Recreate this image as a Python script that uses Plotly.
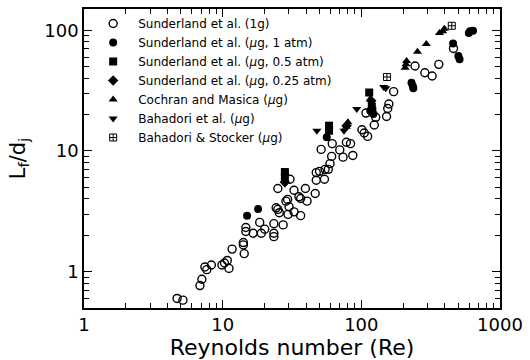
import plotly.graph_objects as go

# ---- data (Re, Lf/dj) ----
g1_re = [4.69, 5.17, 6.86, 7.08, 7.44, 7.68, 8.29, 9.87, 10.3, 10.8, 11.1, 11.7, 14.1, 14.1, 14.3,
         14.7, 14.7, 16.6, 18.5, 19.0, 20.1, 23.4, 23.4, 23.4, 27.3, 24.3, 25.0, 25.6, 29.6, 30.1,
         32.7, 36.5, 28.6, 29.4, 35.5, 36.5, 40.6, 25.0, 32.7, 39.5, 46.5, 30.6, 47.3, 49.9, 54.8,
         47.3, 54.2, 51.3, 61.7, 69.9, 78.0, 83.6, 61.1, 59.4, 73.8, 86.8, 57.8, 101, 105, 111,
         108, 124, 127, 152, 155, 158, 171, 244, 287, 324, 362, 462]
g1_ld = [0.600, 0.581, 0.767, 0.865, 1.093, 1.039, 1.135, 1.135, 1.18, 1.239, 1.064, 1.538, 1.742, 1.667, 1.41,
         2.32, 2.15, 2.08, 2.56, 2.08, 2.25, 2.50, 2.08, 1.95, 2.44, 3.38, 3.28, 3.08, 2.98, 3.45,
         3.13, 2.91, 3.84, 3.97, 4.17, 4.04, 3.84, 4.89, 4.73, 4.89, 4.44, 5.83, 6.62, 6.78, 7.04,
         5.72, 5.83, 10.3, 11.5, 10.2, 11.8, 11.5, 9.01, 7.85, 8.89, 9.18, 7.04, 15.0, 14.1, 13.2,
         20.6, 16.4, 19.0, 19.3, 22.5, 24.5, 31.0, 50.6, 44.5, 41.8, 52.2, 70.7]

ug1_re = [15.0, 18.0, 56.3, 122, 116, 230, 235, 237, 459, 501, 511, 596, 609, 639]
ug1_ld = [2.91, 3.30, 13.0, 20.2, 21.5, 36.8, 34.6, 33.1, 77.7, 61.1, 57.4, 95.0, 98.2, 99.1]

ug05_re = [28.1, 28.1, 58.5, 58.5, 114, 119, 120]
ug05_ld = [6.69, 6.09, 16.2, 14.7, 30.5, 23.3, 21.5]

ug025_re = [28.1, 78.3, 118]
ug025_ld = [5.51, 16.2, 26.0]

coch_re = [80, 78, 116, 212, 210, 207, 254, 294, 366, 386, 397]
coch_ld = [17.3, 15.9, 26.9, 55.6, 52.2, 49.0, 66.3, 77.1, 95, 98.2, 103]

bah_re = [28.1, 47.8, 75.0, 92.7, 145, 150]
bah_ld = [5.37, 14.7, 14.7, 22.3, 33.9, 33.1]

bs_re = [153, 449]
bs_ld = [41.0, 109]

names = ["Sunderland et al. (1g)",
         "Sunderland et al. (<i>μ</i>g, 1 atm)",
         "Sunderland et al. (<i>μ</i>g, 0.5 atm)",
         "Sunderland et al. (<i>μ</i>g, 0.25 atm)",
         "Cochran and Masica (<i>μ</i>g)",
         "Bahadori et al. (<i>μ</i>g)",
         "Bahadori &amp; Stocker (<i>μ</i>g)"]

x_ticks = [1, 10, 100, 1000]
y_ticks = [1, 10, 100]

FONT = "DejaVu Sans"

series = [
    (g1_re, g1_ld, "circle-open", 8, 1.4),
    (ug1_re, ug1_ld, "circle", 8, 0),
    (ug05_re, ug05_ld, "square", 8, 0),
    (ug025_re, ug025_ld, "diamond", 8, 0),
    (coch_re, coch_ld, "triangle-up", 8, 0),
    (bah_re, bah_ld, "triangle-down", 8, 0),
    (bs_re, bs_ld, "square-cross-open", 7, 1.0),
]

fig = go.Figure()
for (xs, ys, sym, sz, lw), nm in zip(series, names):
    fig.add_trace(go.Scatter(
        x=xs, y=ys, mode="markers", name=nm,
        marker=dict(symbol=sym, size=sz, color="black",
                    line=dict(color="black", width=lw)),
    ))

# same first series on the top/right axes (hidden) so those tick axes are drawn
fig.add_trace(go.Scatter(x=g1_re, y=g1_ld, xaxis="x2", yaxis="y2",
                         mode="markers", marker=dict(size=1, opacity=0),
                         showlegend=False, hoverinfo="skip"))

minor_x = [v * m for m in (1, 10, 100) for v in range(2, 10)]
minor_y = [0.5, 0.6, 0.7, 0.8, 0.9] + [v * m for m in (1, 10) for v in range(2, 10)] + [150]

XR = [0, 3]
YR = [-0.30103, 2.17609]

TC = "black"
tick_common = dict(ticks="inside", ticklen=8, tickwidth=1.2,
                   showgrid=False, zeroline=False)
minor_common = dict(ticks="inside", ticklen=5, tickwidth=1.2)

fig.update_layout(
    width=530, height=360,
    margin=dict(l=84, r=23, t=7, b=52),
    paper_bgcolor="white", plot_bgcolor="white",
    font=dict(family=FONT, color="black"),
    showlegend=True,
    legend=dict(x=0.01, y=1.0, xanchor="left", yanchor="top",
                bgcolor="rgba(0,0,0,0)", font=dict(size=12, family=FONT),
                itemwidth=40, tracegroupgap=0),
    xaxis=dict(
        type="log", range=XR,
        tickvals=x_ticks, ticktext=[str(v) for v in x_ticks], tickcolor=TC,
        minor=dict(tickvals=minor_x, tickcolor=TC, **minor_common),
        showline=True, linecolor="black", linewidth=1.5, mirror=True,
        tickfont=dict(size=18, family=FONT),
        title=dict(text="Reynolds number (Re)", font=dict(size=22, family=FONT), standoff=2),
        **tick_common,
    ),
    yaxis=dict(
        type="log", range=YR,
        tickvals=y_ticks, ticktext=[str(v) for v in y_ticks], tickcolor=TC,
        minor=dict(tickvals=minor_y, tickcolor=TC, **minor_common),
        showline=True, linecolor="black", linewidth=1.5, mirror=True,
        tickfont=dict(size=18, family=FONT),
        title=dict(text="L<sub>f</sub>/d<sub>j</sub>", font=dict(size=21, family=FONT), standoff=13),
        **tick_common,
    ),
    xaxis2=dict(
        type="log", range=XR, overlaying="x", side="top", anchor="y",
        tickvals=x_ticks, showticklabels=False, tickcolor=TC,
        minor=dict(tickvals=minor_x, tickcolor=TC, **minor_common),
        **tick_common,
    ),
    yaxis2=dict(
        type="log", range=YR, overlaying="y", side="right", anchor="x",
        tickvals=y_ticks, showticklabels=False, tickcolor=TC,
        minor=dict(tickvals=minor_y, tickcolor=TC, **minor_common),
        **tick_common,
    ),
)

fig.write_html("out.html")
